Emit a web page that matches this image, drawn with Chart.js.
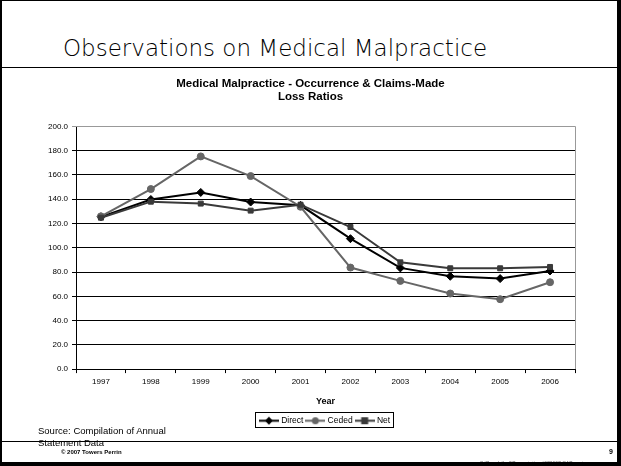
<!DOCTYPE html>
<html>
<head>
<meta charset="utf-8">
<script src="https://cdn.jsdelivr.net/npm/chart.js@4"></script>
<style>
  html, body { margin: 0; padding: 0; background: #fff; }
  #slide {
    position: relative;
    width: 621px;
    height: 466px;
    box-sizing: border-box;
    border-left: 2px solid #000;
    border-top: 1px solid #000;
    border-right: 4px solid #000;
    border-bottom: 4px solid #000;
    overflow: hidden;
    font-family: "Liberation Sans", Arial, sans-serif;
  }
  .abs { position: absolute; white-space: nowrap; }
  #heading {
    left: 61px; top: 34px;
    font-family: "DejaVu Sans", sans-serif;
    font-weight: 200;
    font-size: 23px;
    color: #000;
  }
  #rule-top { left: 0; right: 0; top: 66px; height: 1px; background: #000; }
  #rule-bottom { left: 0; right: 0; top: 440px; height: 1px; background: #000; }
  #source { left: 36px; top: 424px; font-size: 9.5px; line-height: 12px; color: #000; }
  #copy { left: 59px; top: 448px; font-size: 6px; font-weight: bold; color: #000; }
  #page { left: 607px; top: 447px; font-size: 7px; font-weight: bold; color: #000; }
  #path { left: 478px; top: 459px; font-size: 5px; color: #666; }
  #chartBox { position: absolute; left: -2px; top: 68px; width: 621px; height: 368px; }
</style>
</head>
<body>
<div id="slide">
  <div class="abs" id="heading">Observations on Medical Malpractice</div>
  <div class="abs" id="rule-top"></div>
  <div id="chartBox"><canvas id="lossChart"></canvas></div>
  <div class="abs" id="source">Source: Compilation of Annual<br>Statement Data</div>
  <div class="abs" id="rule-bottom"></div>
  <div class="abs" id="copy">© 2007 Towers Perrin</div>
  <div class="abs" id="page">9</div>
  <div class="abs" id="path">S:\People\hull\Presentations\070607 CAPs.ppt</div>
</div>
<script>
const years = ["1997", "1998", "1999", "2000", "2001", "2002", "2003", "2004", "2005", "2006"];
const direct = [125.5, 139.8, 145.6, 137.7, 135.0, 107.5, 83.4, 76.5, 74.6, 80.9];
const ceded = [125.9, 148.4, 175.3, 159.1, 133.8, 83.7, 72.7, 62.3, 57.6, 71.6];
const net = [124.8, 138.0, 136.4, 130.6, 135.5, 117.1, 88.0, 83.1, 83.1, 84.2];
const yTicks = [0, 20, 40, 60, 80, 100, 120, 140, 160, 180, 200];

const seriesStyle = [
    { label: "Direct", data: direct, color: "#000000", marker: "rectRot", radius: 4 },
    { label: "Ceded", data: ceded, color: "#666666", marker: "circle", radius: 3.5 },
    { label: "Net", data: net, color: "#3a3a3a", marker: "rect", radius: 3.5 },
];

// small line+marker swatch for the legend
function legendIcon(style) {
    const c = document.createElement("canvas");
    c.width = 20;
    c.height = 9;
    const ctx = c.getContext("2d");
    ctx.strokeStyle = style.color;
    ctx.fillStyle = style.color;
    ctx.lineWidth = 2;
    ctx.beginPath();
    ctx.moveTo(0, 4.5);
    ctx.lineTo(20, 4.5);
    ctx.stroke();
    ctx.beginPath();
    if (style.marker === "rectRot") {
        ctx.moveTo(10, 0.5); ctx.lineTo(14, 4.5); ctx.lineTo(10, 8.5); ctx.lineTo(6, 4.5);
    } else if (style.marker === "circle") {
        ctx.arc(10, 4.5, 3.5, 0, Math.PI * 2);
    } else {
        ctx.rect(6.5, 1, 7, 7);
    }
    ctx.fill();
    return c;
}

// border round the plot and round the legend
const frame = {
    id: "frame",
    afterDraw(chart) {
        const { ctx, chartArea, legend } = chart;
        ctx.save();
        ctx.strokeStyle = "#999";
        ctx.lineWidth = 1;
        ctx.beginPath();
        ctx.moveTo(chartArea.left, Math.round(chartArea.top) + 0.5);
        ctx.lineTo(Math.round(chartArea.right) + 0.5, Math.round(chartArea.top) + 0.5);
        ctx.lineTo(Math.round(chartArea.right) + 0.5, chartArea.bottom);
        ctx.stroke();
        if (legend && legend.legendHitBoxes.length) {
            const boxes = legend.legendHitBoxes;
            const first = boxes[0];
            const last = boxes[boxes.length - 1];
            ctx.strokeStyle = "#000";
            ctx.strokeRect(Math.round(first.left) - 5.5, Math.round(first.top) - 3.5,
                Math.round(last.left + last.width - first.left) + 9, Math.round(first.height) + 6);
        }
        ctx.restore();
    },
};

new Chart(document.getElementById("lossChart"), {
    type: "line",
    data: {
        labels: years,
        datasets: seriesStyle.map((s, i) => ({
            label: s.label,
            data: s.data,
            borderColor: s.color,
            backgroundColor: s.color,
            borderWidth: 2,
            pointStyle: s.marker,
            pointRadius: s.radius,
            pointHoverRadius: s.radius,
            pointBorderWidth: 1,
            tension: 0,
            order: 3 - i,
        })),
    },
    plugins: [frame],
    options: {
        responsive: true,
        maintainAspectRatio: false,
        animation: false,
        layout: { padding: { left: 0, right: 0, top: 0, bottom: 2 } },
        plugins: {
            title: {
                display: true,
                text: ["Medical Malpractice - Occurrence & Claims-Made", "Loss Ratios"],
                color: "#000",
                font: { family: "Liberation Sans", size: 11.5, weight: "bold", lineHeight: 1.15 },
                padding: { top: 8, bottom: 23 },
            },
            legend: {
                position: "bottom",
                fullSize: false,
                labels: {
                    usePointStyle: true,
                    pointStyleWidth: 16,
                    color: "#000",
                    font: { family: "Liberation Sans", size: 8.5 },
                    padding: 4,
                    boxHeight: 9,
                    generateLabels(chart) {
                        return seriesStyle.map((s, i) => ({
                            text: s.label,
                            pointStyle: legendIcon(s),
                            fontColor: "#000",
                            datasetIndex: i,
                            hidden: false,
                        }));
                    },
                },
            },
            tooltip: { enabled: false },
        },
        scales: {
            x: {
                offset: true,
                grid: {
                    offset: true,
                    drawOnChartArea: false,
                    color: "#000",
                    tickLength: 4,
                },
                border: { color: "#000", width: 1 },
                ticks: {
                    color: "#000",
                    font: { family: "Liberation Sans", size: 8 },
                    padding: 4,
                    maxRotation: 0,
                },
                title: {
                    display: true,
                    text: "Year",
                    color: "#000",
                    font: { family: "Liberation Sans", size: 9, weight: "bold" },
                    padding: { top: 5, bottom: 6 },
                },
            },
            y: {
                min: 0,
                max: 200,
                afterBuildTicks(scale) {
                    scale.ticks = yTicks.map((v) => ({ value: v }));
                },
                afterFit(scale) {
                    scale.width = 76;
                },
                grid: {
                    color: (ctx) => (ctx.tick && ctx.tick.value === 200 ? "#999" : "#000"),
                    tickLength: 4,
                },
                border: { color: "#000", width: 1 },
                ticks: {
                    color: "#000",
                    font: { family: "Liberation Sans", size: 8 },
                    padding: 4,
                    callback: (v) => Number(v).toFixed(1),
                },
            },
            // empty margin on the right of the plot
            gutter: {
                type: "linear",
                position: "right",
                grid: { display: false },
                border: { display: false },
                ticks: { display: false },
                afterFit(scale) {
                    scale.width = 46;
                },
            },
        },
    },
});
</script>
</body>
</html>
